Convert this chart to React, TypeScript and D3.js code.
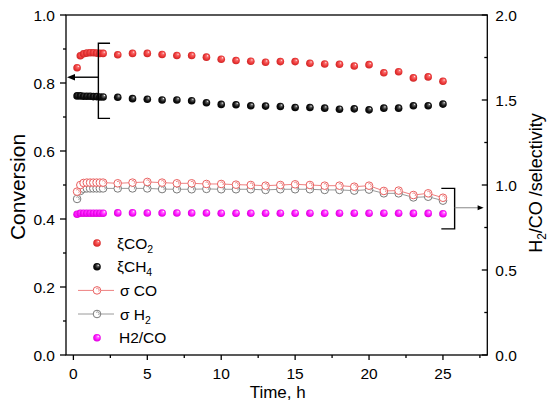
import React, { useEffect, useRef } from "react";
import * as d3 from "d3";

const W = 550;
const H = 417;

// Time points (h)
const times = [
  0.25, 0.47, 0.69, 0.91, 1.13, 1.35, 1.57, 1.79, 2.01,
  3, 4, 5, 6, 7, 8, 9, 10, 11, 12, 13, 14, 15, 16, 17, 18, 19, 20, 21, 22, 23, 24, 25,
];

// Left axis (Conversion)
const xiCO2 = [
  0.845, 0.88, 0.886, 0.888, 0.889, 0.889, 0.888, 0.887, 0.887,
  0.883, 0.887, 0.887, 0.884, 0.881, 0.881, 0.876, 0.87, 0.866, 0.864, 0.861, 0.863, 0.863,
  0.858, 0.856, 0.855, 0.85, 0.854, 0.83, 0.833, 0.815, 0.818, 0.805,
];
const xiCH4 = [
  0.762, 0.762, 0.761, 0.761, 0.761, 0.76, 0.76, 0.759, 0.759,
  0.758, 0.754, 0.752, 0.75, 0.75, 0.748, 0.742, 0.737, 0.736, 0.733, 0.732, 0.731, 0.728,
  0.728, 0.726, 0.723, 0.724, 0.721, 0.726, 0.726, 0.733, 0.733, 0.738,
];

// Right axis (H2/CO / selectivity)
const sigmaCO = [
  0.961, 1.0, 1.012, 1.014, 1.014, 1.014, 1.014, 1.014, 1.014,
  1.01, 1.014, 1.018, 1.014, 1.01, 1.01, 1.006, 1.006, 1.002, 1.0, 0.996, 1.0, 1.004,
  1.0, 0.996, 0.996, 0.99, 0.996, 0.965, 0.967, 0.941, 0.951, 0.925,
];
const sigmaH2 = [
  0.918, 0.965, 0.978, 0.98, 0.98, 0.98, 0.98, 0.98, 0.98,
  0.98, 0.98, 0.98, 0.976, 0.975, 0.975, 0.977, 0.975, 0.975, 0.975, 0.971, 0.975, 0.975,
  0.975, 0.971, 0.971, 0.967, 0.973, 0.951, 0.951, 0.927, 0.931, 0.908,
];
const h2co = [
  0.828, 0.834, 0.834, 0.834, 0.834, 0.834, 0.834, 0.834, 0.834,
  0.836, 0.836, 0.835, 0.835, 0.835, 0.835, 0.835, 0.834, 0.834, 0.834, 0.834, 0.834, 0.834,
  0.834, 0.834, 0.834, 0.834, 0.834, 0.834, 0.834, 0.833, 0.833, 0.831,
];

const xTicks = [0, 5, 10, 15, 20, 25];
const yLeftTicks = [0, 0.2, 0.4, 0.6, 0.8, 1.0];
const yRightTicks = [0, 0.5, 1.0, 1.5, 2.0];

const FONT = "Arial, 'Liberation Sans', sans-serif";

export default function App() {
  const ref = useRef<SVGSVGElement | null>(null);

  useEffect(() => {
    const svg = d3.select(ref.current);
    svg.selectAll("*").remove();

    const x = d3.scaleLinear().domain([-0.5, 28]).range([66, 487.3]);
    const yL = d3.scaleLinear().domain([0, 1]).range([355, 15]);
    const yR = d3.scaleLinear().domain([0, 2]).range([355, 15]);

    const defs = svg.append("defs");
    const grad = (id: string, light: string, base: string, dark: string) => {
      const g = defs
        .append("radialGradient")
        .attr("id", id)
        .attr("cx", "50%")
        .attr("cy", "50%")
        .attr("r", "55%")
        .attr("fx", "68%")
        .attr("fy", "30%");
      g.append("stop").attr("offset", "0%").attr("stop-color", "#ffffff");
      g.append("stop").attr("offset", "22%").attr("stop-color", light);
      g.append("stop").attr("offset", "60%").attr("stop-color", base);
      g.append("stop").attr("offset", "100%").attr("stop-color", dark);
    };
    grad("gRed", "#f87070", "#ee3b3b", "#c82020");
    grad("gBlack", "#666666", "#111111", "#000000");
    grad("gMag", "#ff70ff", "#ff10ff", "#d000d0");

    const xMin = x.domain()[0];
    const xMax = x.domain()[1];
    const y0 = yL(0);
    const y1 = yL(1);

    // frame
    const axisColor = "#000";
    svg
      .append("rect")
      .attr("x", x(xMin))
      .attr("y", y1)
      .attr("width", x(xMax) - x(xMin))
      .attr("height", y0 - y1)
      .attr("fill", "none")
      .attr("stroke", axisColor)
      .attr("stroke-width", 1.3);

    // bottom axis ticks
    const xMinor = d3.range(2.5, 28, 5);
    const gx = svg.append("g");
    xTicks.forEach((t) => {
      gx.append("line")
        .attr("x1", x(t)).attr("x2", x(t))
        .attr("y1", y0).attr("y2", y0 + 5)
        .attr("stroke", axisColor).attr("stroke-width", 1.3);
      gx.append("text")
        .attr("x", x(t)).attr("y", y0 + 24)
        .attr("text-anchor", "middle")
        .attr("font-family", FONT).attr("font-size", 15.5)
        .text(String(t));
    });
    xMinor.forEach((t) => {
      gx.append("line")
        .attr("x1", x(t)).attr("x2", x(t))
        .attr("y1", y0).attr("y2", y0 + 3)
        .attr("stroke", axisColor).attr("stroke-width", 1.3);
    });

    // left axis
    const gl = svg.append("g");
    yLeftTicks.forEach((t) => {
      gl.append("line")
        .attr("x1", x(xMin) - 6).attr("x2", x(xMin))
        .attr("y1", yL(t)).attr("y2", yL(t))
        .attr("stroke", axisColor).attr("stroke-width", 1.3);
      gl.append("text")
        .attr("x", x(xMin) - 11).attr("y", yL(t) + 5.5)
        .attr("text-anchor", "end")
        .attr("font-family", FONT).attr("font-size", 15.5)
        .text(t.toFixed(1));
    });
    d3.range(0.1, 1.0, 0.2).forEach((t) => {
      gl.append("line")
        .attr("x1", x(xMin) - 3).attr("x2", x(xMin))
        .attr("y1", yL(t)).attr("y2", yL(t))
        .attr("stroke", axisColor).attr("stroke-width", 1.3);
    });

    // right axis (ticks inward)
    const gr = svg.append("g");
    const xr = x(xMax);
    yRightTicks.forEach((t) => {
      gr.append("line")
        .attr("x1", xr - 5.5).attr("x2", xr)
        .attr("y1", yR(t)).attr("y2", yR(t))
        .attr("stroke", axisColor).attr("stroke-width", 1.3);
      gr.append("text")
        .attr("x", xr + 8).attr("y", yR(t) + 5.5)
        .attr("text-anchor", "start")
        .attr("font-family", FONT).attr("font-size", 15.5)
        .text(t.toFixed(1));
    });
    [0.25, 0.75, 1.25, 1.75].forEach((t) => {
      gr.append("line")
        .attr("x1", xr - 3).attr("x2", xr)
        .attr("y1", yR(t)).attr("y2", yR(t))
        .attr("stroke", axisColor).attr("stroke-width", 1.3);
    });

    // axis titles
    svg.append("text")
      .attr("x", (x(xMin) + x(xMax)) / 2 + 1)
      .attr("y", 398)
      .attr("text-anchor", "middle")
      .attr("font-family", FONT).attr("font-size", 17)
      .text("Time, h");
    svg.append("text")
      .attr("transform", `translate(25,187) rotate(-90)`)
      .attr("text-anchor", "middle")
      .attr("font-family", FONT).attr("font-size", 21)
      .text("Conversion");
    const rt = svg.append("text")
      .attr("transform", `translate(542,${(y0 + y1) / 2 - 2}) rotate(-90)`)
      .attr("text-anchor", "middle")
      .attr("font-family", FONT).attr("font-size", 18);
    rt.append("tspan").text("H");
    rt.append("tspan").attr("font-size", 12).attr("dy", 4).text("2");
    rt.append("tspan").attr("dy", -4).text("/CO /selectivity");

    const R = 3.8;

    // line series
    const lineR = d3.line<number>().x((_, i) => x(times[i])).y((d) => yR(d));

    const openSeries = (vals: number[], color: string) => {
      svg.append("path")
        .attr("d", lineR(vals) as string)
        .attr("fill", "none")
        .attr("stroke", color)
        .attr("stroke-width", 1);
    };
    const openMarkers = (vals: number[], color: string) => {
      const g = svg.append("g");
      vals.forEach((v, i) => {
        const cx = x(times[i]);
        const cy = yR(v);
        g.append("circle")
          .attr("cx", cx).attr("cy", cy).attr("r", R)
          .attr("fill", "#fff").attr("stroke", color).attr("stroke-width", 1);
        g.append("path")
          .attr("d", `M${cx - 0.8},${cy - 1.6} A1.7,1.7 0 1 1 ${cx + 1.6},${cy + 1.0}`)
          .attr("fill", "none").attr("stroke", color).attr("stroke-width", 0.8);
      });
    };

    openSeries(sigmaH2, "#9a9a9a");
    openSeries(sigmaCO, "#ee8080");
    openMarkers(sigmaH2, "#7a7a7a");
    openMarkers(sigmaCO, "#ea6060");

    const spheres = (vals: number[], scale: d3.ScaleLinear<number, number>, fill: string) => {
      svg.append("g")
        .selectAll("circle")
        .data(vals)
        .join("circle")
        .attr("cx", (_, i) => x(times[i]))
        .attr("cy", (d) => scale(d))
        .attr("r", R)
        .attr("fill", fill);
    };
    spheres(xiCO2, yL, "url(#gRed)");
    spheres(xiCH4, yL, "url(#gBlack)");
    spheres(h2co, yR, "url(#gMag)");

    // left bracket + arrow
    const lb = { x: 1.69, xEnd: 2.48, top: 0.917, bottom: 0.696, arrowY: 0.817 };
    const bl = svg.append("g").attr("stroke", "#000").attr("stroke-width", 1.4).attr("fill", "none");
    bl.append("path").attr(
      "d",
      `M${x(lb.xEnd)},${yL(lb.top)} H${x(lb.x)} V${yL(lb.bottom)} H${x(lb.xEnd)}`
    );
    bl.append("line")
      .attr("x1", x(lb.x)).attr("x2", x(xMin) + 7)
      .attr("y1", yL(lb.arrowY)).attr("y2", yL(lb.arrowY));
    svg.append("path")
      .attr(
        "d",
        `M${x(xMin) + 1},${yL(lb.arrowY)} L${x(xMin) + 9},${yL(lb.arrowY) - 3.2} L${x(xMin) + 9},${yL(lb.arrowY) + 3.2} Z`
      )
      .attr("fill", "#000");

    // right bracket + arrow
    const rb = { x: 25.79, xEnd: 24.89, top: 0.49, bottom: 0.371, arrowY: 0.433, tip: 27.75 };
    const br = svg.append("g").attr("stroke", "#000").attr("stroke-width", 1.4).attr("fill", "none");
    br.append("path").attr(
      "d",
      `M${x(rb.xEnd)},${yL(rb.top)} H${x(rb.x)} V${yL(rb.bottom)} H${x(rb.xEnd)}`
    );
    svg.append("line")
      .attr("x1", x(rb.x)).attr("x2", x(rb.tip) - 5)
      .attr("y1", yL(rb.arrowY)).attr("y2", yL(rb.arrowY))
      .attr("stroke", "#888").attr("stroke-width", 1);
    svg.append("path")
      .attr(
        "d",
        `M${x(rb.tip)},${yL(rb.arrowY)} L${x(rb.tip) - 6},${yL(rb.arrowY) - 2.5} L${x(rb.tip) - 6},${yL(rb.arrowY) + 2.5} Z`
      )
      .attr("fill", "#000");

    // legend
    const legX = 97;
    const rows = [243, 266.7, 290.4, 314, 337.8];
    const lg = svg.append("g");
    const txt = (yy: number) =>
      lg.append("text")
        .attr("x", 117).attr("y", yy + 5.5)
        .attr("font-family", FONT).attr("font-size", 15.5);
    // ξCO2
    lg.append("circle").attr("cx", legX).attr("cy", rows[0]).attr("r", R).attr("fill", "url(#gRed)");
    let t = txt(rows[0]);
    t.append("tspan").text("ξCO");
    t.append("tspan").attr("font-size", 10.5).attr("dy", 4).text("2");
    // ξCH4
    lg.append("circle").attr("cx", legX).attr("cy", rows[1]).attr("r", R).attr("fill", "url(#gBlack)");
    t = txt(rows[1]);
    t.append("tspan").text("ξCH");
    t.append("tspan").attr("font-size", 10.5).attr("dy", 4).text("4");
    // σ CO
    const legOpen = (yy: number, lineColor: string, mColor: string) => {
      lg.append("line").attr("x1", 78).attr("x2", 114).attr("y1", yy).attr("y2", yy)
        .attr("stroke", lineColor).attr("stroke-width", 1);
      lg.append("circle").attr("cx", legX).attr("cy", yy).attr("r", R)
        .attr("fill", "#fff").attr("stroke", mColor).attr("stroke-width", 1);
      lg.append("path")
        .attr("d", `M${legX - 0.8},${yy - 1.6} A1.7,1.7 0 1 1 ${legX + 1.6},${yy + 1.0}`)
        .attr("fill", "none").attr("stroke", mColor).attr("stroke-width", 0.8);
    };
    legOpen(rows[2], "#ee8080", "#ea6060");
    t = txt(rows[2]);
    t.attr("x", 120).text("σ CO");
    legOpen(rows[3], "#9a9a9a", "#7a7a7a");
    t = txt(rows[3]);
    t.attr("x", 120);
    t.append("tspan").text("σ H");
    t.append("tspan").attr("font-size", 10.5).attr("dy", 4).text("2");
    // H2/CO
    lg.append("circle").attr("cx", legX).attr("cy", rows[4]).attr("r", R).attr("fill", "url(#gMag)");
    txt(rows[4]).attr("x", 119).text("H2/CO");
  }, []);

  return (
    <svg
      ref={ref}
      width={W}
      height={H}
      style={{ position: "absolute", left: 0, top: 0, background: "#fff" }}
    />
  );
}
